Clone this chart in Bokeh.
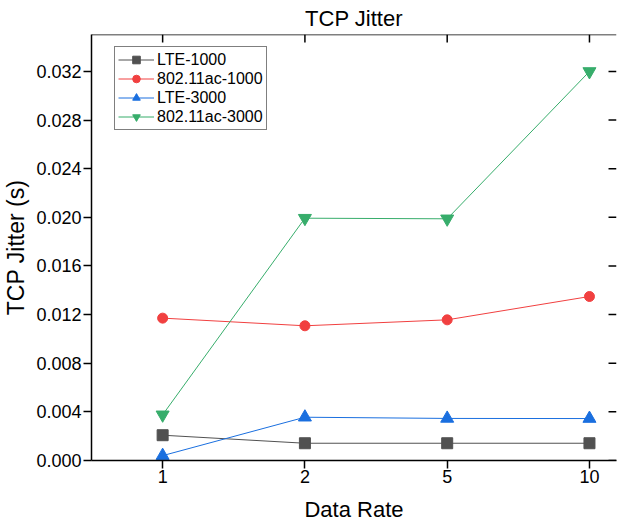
from bokeh.plotting import figure
from bokeh.models import FixedTicker, Range1d, Legend, LegendItem, PrintfTickFormatter, Span
from bokeh.embed import file_html
from bokeh.resources import INLINE

x_labels = ["1", "2", "5", "10"]
lte_1000 = [0.00208, 0.00142, 0.00142, 0.00142]
wifi_1000 = [0.01171, 0.01108, 0.01157, 0.01349]
lte_3000 = [0.0004, 0.00356, 0.00346, 0.00345]
wifi_3000 = [0.00376, 0.01993, 0.01988, 0.0320]
y_ticks = [0.0, 0.004, 0.008, 0.012, 0.016, 0.020, 0.024, 0.028, 0.032]

xs = list(range(len(x_labels)))
FONT = "Liberation Sans"

X0, X1 = -0.5, 3.19
Y0, Y1 = 0.0, 0.03504
FRAME_W, FRAME_H = 526, 426
TICK = 8

p = figure(width=617, height=524, output_backend="svg", toolbar_location=None,
           x_range=Range1d(X0, X1), y_range=Range1d(Y0, Y1),
           min_border_left=90, min_border_top=34, min_border_bottom=64, min_border_right=1,
           title="TCP Jitter")
p.grid.visible = False
p.outline_line_color = None
p.background_fill_color = "white"
p.border_fill_color = "white"

p.title.text_font = FONT
p.title.text_font_size = "22px"
p.title.text_font_style = "normal"
p.title.align = "center"
p.title.text_color = "black"
p.title.standoff = 7

for ax in [p.xaxis[0], p.yaxis[0]]:
    ax.axis_line_width = 1.5
    ax.axis_line_color = "black"
    ax.major_tick_line_width = 1.5
    ax.major_tick_line_color = "black"
    ax.major_tick_in = 0
    ax.major_tick_out = TICK
    ax.minor_tick_line_color = None
    ax.major_label_text_font = FONT
    ax.major_label_text_font_size = "18px"
    ax.major_label_text_color = "black"
    ax.axis_label_text_font = FONT
    ax.axis_label_text_font_size = "22px"
    ax.axis_label_text_font_style = "normal"
    ax.axis_label_text_color = "black"

p.xaxis[0].ticker = FixedTicker(ticks=xs)
p.xaxis[0].major_label_overrides = {i: lab for i, lab in enumerate(x_labels)}
p.xaxis[0].axis_label = "Data Rate"
p.xaxis[0].major_label_standoff = 1
p.xaxis[0].axis_label_standoff = 11

p.yaxis[0].ticker = FixedTicker(ticks=y_ticks)
p.yaxis[0].formatter = PrintfTickFormatter(format="%.3f")
p.yaxis[0].axis_label = "TCP Jitter (s)"
p.yaxis[0].axis_label_text_font_size = "23px"
p.yaxis[0].major_label_standoff = 2
p.yaxis[0].axis_label_standoff = 4

# top frame line and mirrored inward ticks (top and right)
p.add_layout(Span(location=Y1, dimension="width", line_color="black", line_width=1.5))
ty = TICK * (Y1 - Y0) / FRAME_H
tx = TICK * (X1 - X0) / FRAME_W
p.segment(x0=xs, y0=[Y1] * len(xs), x1=xs, y1=[Y1 - ty] * len(xs),
          line_color="black", line_width=1.5)
p.segment(x0=[X1] * len(y_ticks), y0=y_ticks, x1=[X1 - tx] * len(y_ticks), y1=y_ticks,
          line_color="black", line_width=1.5)

series = [
    ("LTE-1000", lte_1000, "#515151", "square", 11),
    ("802.11ac-1000", wifi_1000, "#F14040", "circle", 10),
    ("LTE-3000", lte_3000, "#1A6FDF", "triangle", 13),
    ("802.11ac-3000", wifi_3000, "#37AD6B", "inverted_triangle", 13),
]
items = []
for name, ys, col, mk, sz in series:
    l = p.line(xs, ys, line_color=col, line_width=1)
    m = p.scatter(xs, ys, marker=mk, size=sz, fill_color=col, line_color=col)
    items.append(LegendItem(label=name, renderers=[l, m]))

legend = Legend(items=items, location=(23, 330), border_line_color="black", border_line_width=1,
                padding=3, spacing=0, margin=0, glyph_width=36, glyph_height=19, label_height=19,
                label_standoff=3, label_text_font=FONT, label_text_font_size="16px",
                label_text_color="black", background_fill_alpha=1)
p.add_layout(legend, "center")

open("out.html", "w").write(file_html(p, INLINE))
